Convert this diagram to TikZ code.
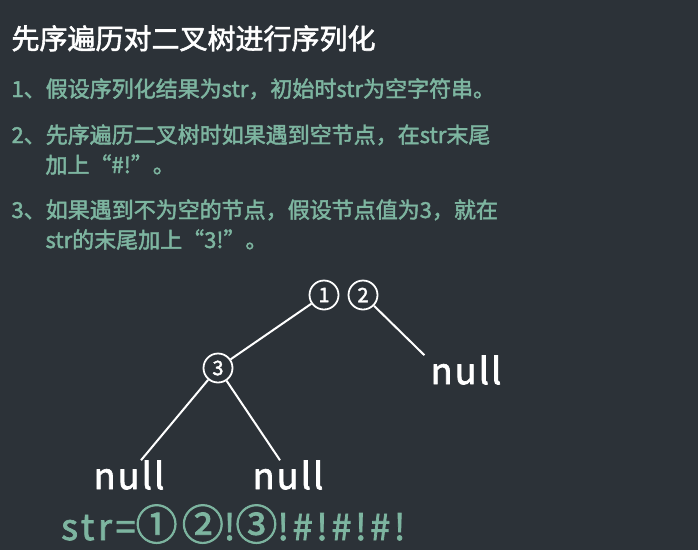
\documentclass[tikz,border=0pt]{standalone}
\usepackage{fontspec}
\setmainfont{Noto Sans CJK SC}
\usetikzlibrary{positioning}

\definecolor{board}{RGB}{44,50,56}
\definecolor{chalk}{RGB}{125,181,160}

\newcommand{\semibold}{\addfontfeature{FakeBold=2}}
\newcommand{\ringed}[1]{{\fontsize{42}{42}\selectfont #1}}

\tikzset{
  title/.style={anchor=base west, text=white, font=\fontsize{28}{30}\selectfont\semibold},
  rule/.style={anchor=base west, text=chalk, font=\fontsize{22}{24}\selectfont\semibold},
  tnode/.style={circle, draw=white, line width=1.8pt, minimum size=29pt, inner sep=0pt,
    text=white, font=\fontsize{20}{20}\selectfont\semibold},
  leaf/.style={text=white, font=\fontsize{36}{36}\selectfont\addfontfeature{LetterSpace=6,FakeBold=2}, inner sep=0pt},
  branch/.style={draw=white, line width=2pt}
}

\begin{document}
\begin{tikzpicture}[x=1pt, y=-1pt]

   % Background
      \fill[board] (0,0) rectangle (698,550);
      \useasboundingbox (0,0) rectangle (698,550);

   % Text
      \node[title] (head)  at (8,49)   {先序遍历对二叉树进行序列化};
      \node[rule]  (s1)    at (8,97)   {1、假设序列化结果为str，初始时str为空字符串。};
      \node[rule]  (s2)    at (8,143)  {2、先序遍历二叉树时如果遇到空节点，在str末尾};
      \node[rule]  (s2b)   at (42,173) {加上“\#!”。};
      \node[rule]  (s3)    at (8,218)  {3、如果遇到不为空的节点，假设节点值为3，就在};
      \node[rule]  (s3b)   at (42,248) {str的末尾加上“3!”。};

   % Nodes
      \node[tnode] (t1)    at (324,295) {1};
      \node[tnode] (t2)    at (363,295) {2};
      \node[tnode] (t3)    at (218,368) {3};
      \node[leaf]  (nr)    at (466,370) {null};
      \node[leaf]  (nl)    at (129,475) {null};
      \node[leaf]  (nm)    at (288,475) {null};

   % Paths
      \draw[branch] (t1) -- (t3);
      \draw[branch] (t2) -- ([xshift=-6pt]nr.north west);
      \draw[branch] (t3) -- ([xshift=12pt]nl.north);
      \draw[branch] (t3) -- ([xshift=-8pt]nm.north);

   % Result
      \node[anchor=base west, text=chalk, font=\fontsize{36}{36}\selectfont\addfontfeature{LetterSpace=10,FakeBold=2}, inner sep=0pt]
         (res) at (61,540) {str=\ringed{①②}!\ringed{③}!\#!\#!\#!};
\end{tikzpicture}
\end{document}
